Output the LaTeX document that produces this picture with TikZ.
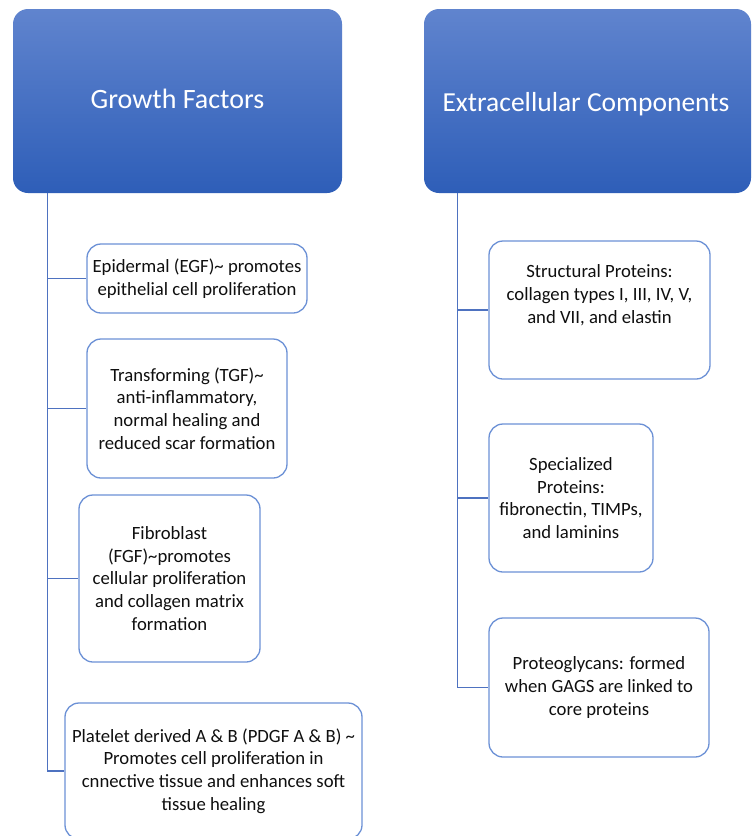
\documentclass[tikz,border=0pt]{standalone}
\usepackage{fontspec}
\setmainfont{Carlito}
\definecolor{hdtop}{RGB}{96,132,206}
\definecolor{hdbot}{RGB}{46,94,184}
\definecolor{boxline}{RGB}{108,145,214}
\definecolor{connline}{RGB}{78,114,192}
\definecolor{txt}{RGB}{15,15,15}
\begin{document}
\begin{tikzpicture}[x=1pt,y=-1pt,
  header/.style={rounded corners=15pt, top color=hdtop, bottom color=hdbot, draw=none,
    text=white, align=center, inner sep=0pt},
  headtext/.style={text=white, font=\fontsize{28}{33}\selectfont, inner sep=0pt},
  itembox/.style={rounded corners=14pt, draw=boxline, line width=1.3pt, fill=white,
    text=txt, font=\fontsize{18.7}{22.8}\selectfont, align=center, inner sep=0pt},
  itemtext/.style={text=txt, font=\fontsize{18.7}{22.8}\selectfont, align=center, inner sep=0pt},
  conn/.style={draw=connline, line width=1.5pt}]
\useasboundingbox (0,0) rectangle (754,836);
\clip (0,0) rectangle (754,836);
\fill[white] (0,0) rectangle (754,836);
% headers
\node[header, minimum width=329pt, minimum height=184pt] (h1) at (177.5,101) {};
\node[headtext] (h1t) at (177.5,99) {Growth Factors};
\node[header, minimum width=327pt, minimum height=184pt] (h2) at (587.5,101) {};
\node[headtext, font=\fontsize{27.5}{33}\selectfont] (h2t) at (586,104) {Extracellular Components};
\coordinate (L) at (47.5,193);
\coordinate (R) at (457.5,193);
% left boxes
\node[itembox, minimum width=220pt, minimum height=69pt] (egf) at (197,278.5) {Epidermal (EGF)\textasciitilde{} promotes\\epithelial cell proliferation};
\node[itembox, minimum width=200pt, minimum height=139pt] (tgf) at (187,408.5) {Transforming (TGF)\textasciitilde\\anti-inflammatory,\\normal healing and\\reduced scar formation};
\node[itembox, minimum width=181pt, minimum height=167pt] (fgf) at (169.5,578.5) {Fibroblast\\(FGF)\textasciitilde promotes\\cellular proliferation\\and collagen matrix\\formation};
\node[itembox, minimum width=297pt, minimum height=136pt] (pdgf) at (213.5,771) {Platelet derived A \& B (PDGF A \& B) \textasciitilde\\Promotes cell proliferation in\\cnnective tissue and enhances soft\\tissue healing};
% right boxes
\node[itembox, minimum width=221pt, minimum height=138pt] (sp) at (599.5,310) {};
\node[itemtext] (spt) at (599.5,295) {Structural Proteins:\\collagen types I, III, IV, V,\\and VII, and elastin};
\node[itembox, minimum width=164pt, minimum height=148pt] (spec) at (571,498) {Specialized\\Proteins:\\fibronectin, TIMPs,\\and laminins};
\node[itembox, minimum width=220pt, minimum height=139pt] (pg) at (599,687.5) {Proteoglycans: formed\\when GAGS are linked to\\core proteins};
% connectors
\draw[conn] (L) |- (egf.west);
\draw[conn] (L) |- (tgf.west);
\draw[conn] (L) |- (fgf.west);
\draw[conn] (L) |- (pdgf.west);
\draw[conn] (R) |- (sp.west);
\draw[conn] (R) |- (spec.west);
\draw[conn] (R) |- (pg.west);
\end{tikzpicture}
\end{document}
